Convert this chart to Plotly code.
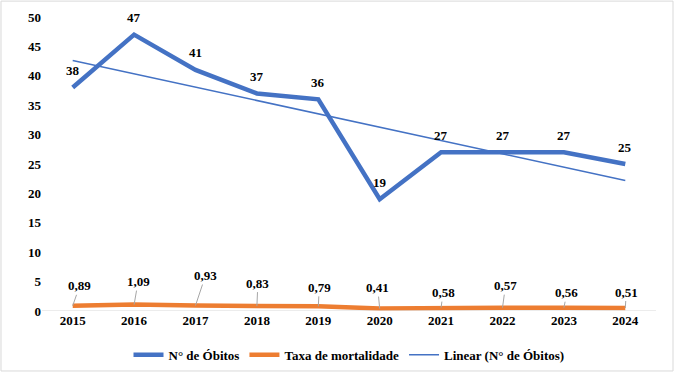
import numpy as np
import plotly.graph_objects as go

years = [2015, 2016, 2017, 2018, 2019, 2020, 2021, 2022, 2023, 2024]
obitos = [38, 47, 41, 37, 36, 19, 27, 27, 27, 25]
taxa = [0.89, 1.09, 0.93, 0.83, 0.79, 0.41, 0.58, 0.57, 0.56, 0.51]
taxa_labels = ["0,89", "1,09", "0,93", "0,83", "0,79", "0,41", "0,58", "0,57", "0,56", "0,51"]
y_ticks = [0, 5, 10, 15, 20, 25, 30, 35, 40, 45, 50]

# label placement offsets (pixels) for rate labels
taxa_dx = [7, 4, 10, 1, 1, -2, 2, 3, 3, 1]
taxa_dy = [-20, -23, -30, -23, -19, -21, -15, -22, -15, -16]

xi = np.arange(1, len(obitos) + 1, dtype=float)
slope, intercept = np.polyfit(xi, np.array(obitos, dtype=float), 1)
trend = [float(slope * k + intercept) for k in xi]

FONT = "Times New Roman, Liberation Serif, DejaVu Serif, serif"
BLUE = "#4472C4"
ORANGE = "#ED7D31"

fig = go.Figure()
fig.add_trace(go.Scatter(x=years, y=obitos, mode="lines", name="N° de Óbitos",
                         line=dict(color=BLUE, width=4.5)))
fig.add_trace(go.Scatter(x=years, y=taxa, mode="lines", name="Taxa de mortalidade",
                         line=dict(color=ORANGE, width=4.5)))
fig.add_trace(go.Scatter(x=years, y=trend, mode="lines", name="Linear (N° de Óbitos)",
                         line=dict(color=BLUE, width=1.5)))

anns = []
for yr, v in zip(years, obitos):
    anns.append(dict(x=yr, y=v, xref="x", yref="y", text=f"<b>{v}</b>", showarrow=False,
                     yshift=17, font=dict(family=FONT, size=13, color="#000")))
for yr, v, t, dx, dy in zip(years, taxa, taxa_labels, taxa_dx, taxa_dy):
    anns.append(dict(x=yr, y=v, xref="x", yref="y", text=f"<b>{t}</b>", showarrow=True,
                     arrowhead=0, arrowwidth=1, arrowcolor="#A6A6A6", ax=dx, ay=dy,
                     axref="pixel", ayref="pixel", standoff=0,
                     font=dict(family=FONT, size=13, color="#000")))

fig.update_layout(
    width=675, height=376,
    margin=dict(l=42, r=19, t=17, b=65, autoexpand=False),
    paper_bgcolor="white", plot_bgcolor="white",
    font=dict(family=FONT, size=13, color="#000"),
    showlegend=True,
    legend=dict(orientation="h", x=0.5, xanchor="center", y=-0.098, yanchor="top",
                bgcolor="rgba(0,0,0,0)",
                font=dict(family=FONT, size=13, color="#000", weight="bold"),
                itemwidth=30, traceorder="normal"),
    annotations=anns,
    xaxis=dict(range=[2014.5, 2024.5], tickvals=years, ticktext=[str(y) for y in years],
               showgrid=False, zeroline=False, showline=False, ticks="",
               tickfont=dict(family=FONT, size=13, weight="bold"), automargin=False),
    yaxis=dict(range=[0, 50], tickvals=y_ticks, showgrid=False, zeroline=False,
               showline=False, ticks="", tickfont=dict(family=FONT, size=13, weight="bold"),
               automargin=False),
    shapes=[
        dict(type="line", xref="paper", yref="y", x0=0, x1=1, y0=0, y1=0,
             line=dict(color="#D9D9D9", width=1)),
        dict(type="rect", xref="paper", yref="paper", x0=-0.0668, x1=1.0277,
             y0=-0.204, y1=1.054, line=dict(color="#D9D9D9", width=1)),
    ],
)

fig.write_html("out.html", config={"displayModeBar": False},
               post_script="document.body.style.margin='0';")
